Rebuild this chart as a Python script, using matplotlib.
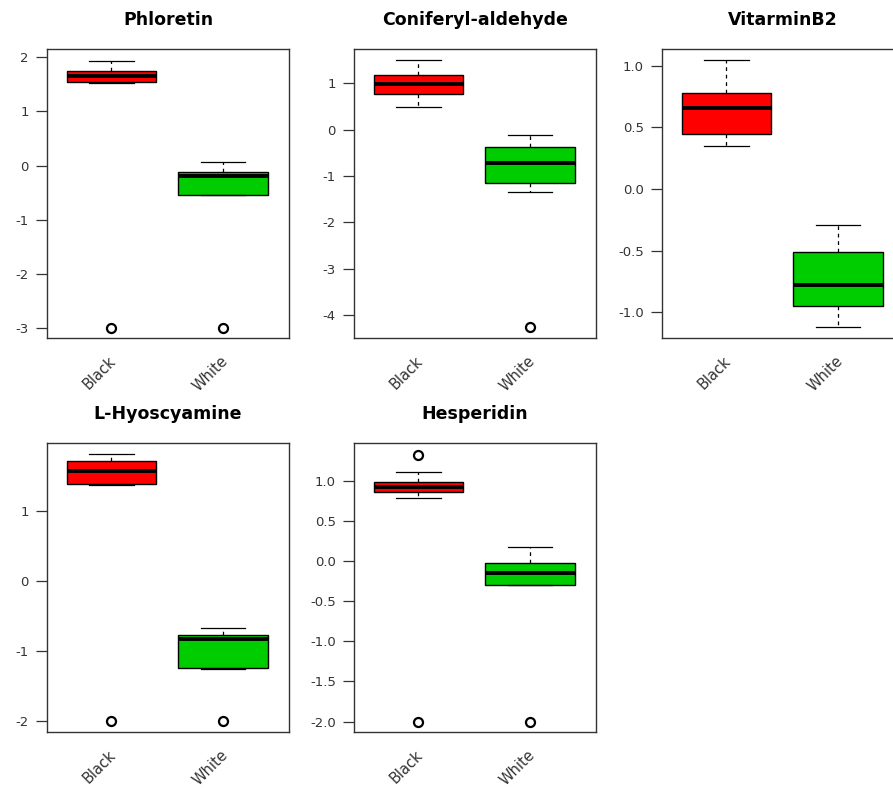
import numpy as np
import matplotlib
matplotlib.use("Agg")
import matplotlib.pyplot as plt
from matplotlib.transforms import ScaledTranslation

# Box statistics: [Black, White]
titles = ["Phloretin", "Coniferyl-aldehyde", "VitarminB2", "L-Hyoscyamine", "Hesperidin"]
groups = ["Black", "White"]

whishi = [[1.93, 0.07], [1.50, -0.115], [1.043, -0.29], [1.80, -0.67], [1.108, 0.18]]
q3     = [[1.75, -0.11], [1.18, -0.38], [0.776, -0.51], [1.70, -0.77], [0.99, -0.025]]
med    = [[1.66, -0.20], [0.98, -0.71], [0.66, -0.78], [1.56, -0.83], [0.92, -0.145]]
q1     = [[1.545, -0.55], [0.76, -1.15], [0.447, -0.95], [1.38, -1.245], [0.855, -0.30]]
whislo = [[1.53, -0.55], [0.50, -1.35], [0.346, -1.12], [1.36, -1.25], [0.79, -0.30]]
fliers = [[[-3.0], [-3.0]], [[], [-4.26]], [[], []], [[-2.0], [-2.0]], [[1.32, -2.0], [-2.0]]]

yticks = [[-3, -2, -1, 0, 1, 2], [-4, -3, -2, -1, 0, 1], [-1.0, -0.5, 0.0, 0.5, 1.0],
          [-2, -1, 0, 1], [-2.0, -1.5, -1.0, -0.5, 0.0, 0.5, 1.0]]
yfmt = ["%d", "%d", "%.1f", "%d", "%.1f"]
ylims = [(-3.18, 2.15), (-4.49, 1.74), (-1.208, 1.135), (-2.15, 1.96), (-2.13, 1.47)]

box_colors = ["#FF0000", "#00CD00"]
INK = "#333333"

W, H = 893, 793
fig = plt.figure(figsize=(W / 100, H / 100), dpi=100)
# panel frames in pixels: left, top
frames = [(47, 49), (354, 49), (662, 49), (47, 443), (354, 443)]
pw, ph = 242, 289

for k, (x0, y0) in enumerate(frames):
    ax = fig.add_axes([x0 / W, 1 - (y0 + ph) / H, pw / W, ph / H])
    stats = []
    for g in range(2):
        stats.append(dict(med=med[k][g], q1=q1[k][g], q3=q3[k][g],
                          whislo=whislo[k][g], whishi=whishi[k][g],
                          fliers=fliers[k][g]))
    bp = ax.bxp(stats, positions=[1, 2], widths=0.8, patch_artist=True,
                showfliers=True,
                boxprops=dict(edgecolor="black", linewidth=1.0),
                medianprops=dict(color="black", linewidth=2.8, solid_capstyle="butt"),
                whiskerprops=dict(color="black", linewidth=0.9, linestyle=(0, (3, 3))),
                capprops=dict(color="black", linewidth=0.9),
                capwidths=0.4,
                flierprops=dict(marker="o", markerfacecolor="none",
                                markeredgecolor="black", markersize=6.5,
                                markeredgewidth=1.6))
    for patch, c in zip(bp["boxes"], box_colors):
        patch.set_facecolor(c)

    ax.set_xlim(0.424, 2.591)
    ax.set_ylim(*ylims[k])
    ax.set_yticks(yticks[k])
    ax.set_yticklabels([yfmt[k] % v for v in yticks[k]])
    ax.tick_params(axis="y", length=8, width=0.9, color=INK, labelsize=9.5,
                   labelcolor=INK, pad=5)
    ax.set_xticks([1, 2])
    ax.set_xticklabels(groups)
    ax.tick_params(axis="x", length=0, labelsize=10.5, labelcolor=INK, pad=11)
    off = ScaledTranslation(-3 / 100, 0, fig.dpi_scale_trans)
    for lab in ax.get_xticklabels():
        lab.set_rotation(45)
        lab.set_ha("right")
        lab.set_va("top")
        lab.set_rotation_mode("anchor")
        lab.set_transform(lab.get_transform() + off)
    for s in ax.spines.values():
        s.set_color(INK)
        s.set_linewidth(1.0)
    ax.set_title(titles[k], fontsize=12.5, fontweight="bold", pad=17)

fig.savefig("out.png", dpi=100)
